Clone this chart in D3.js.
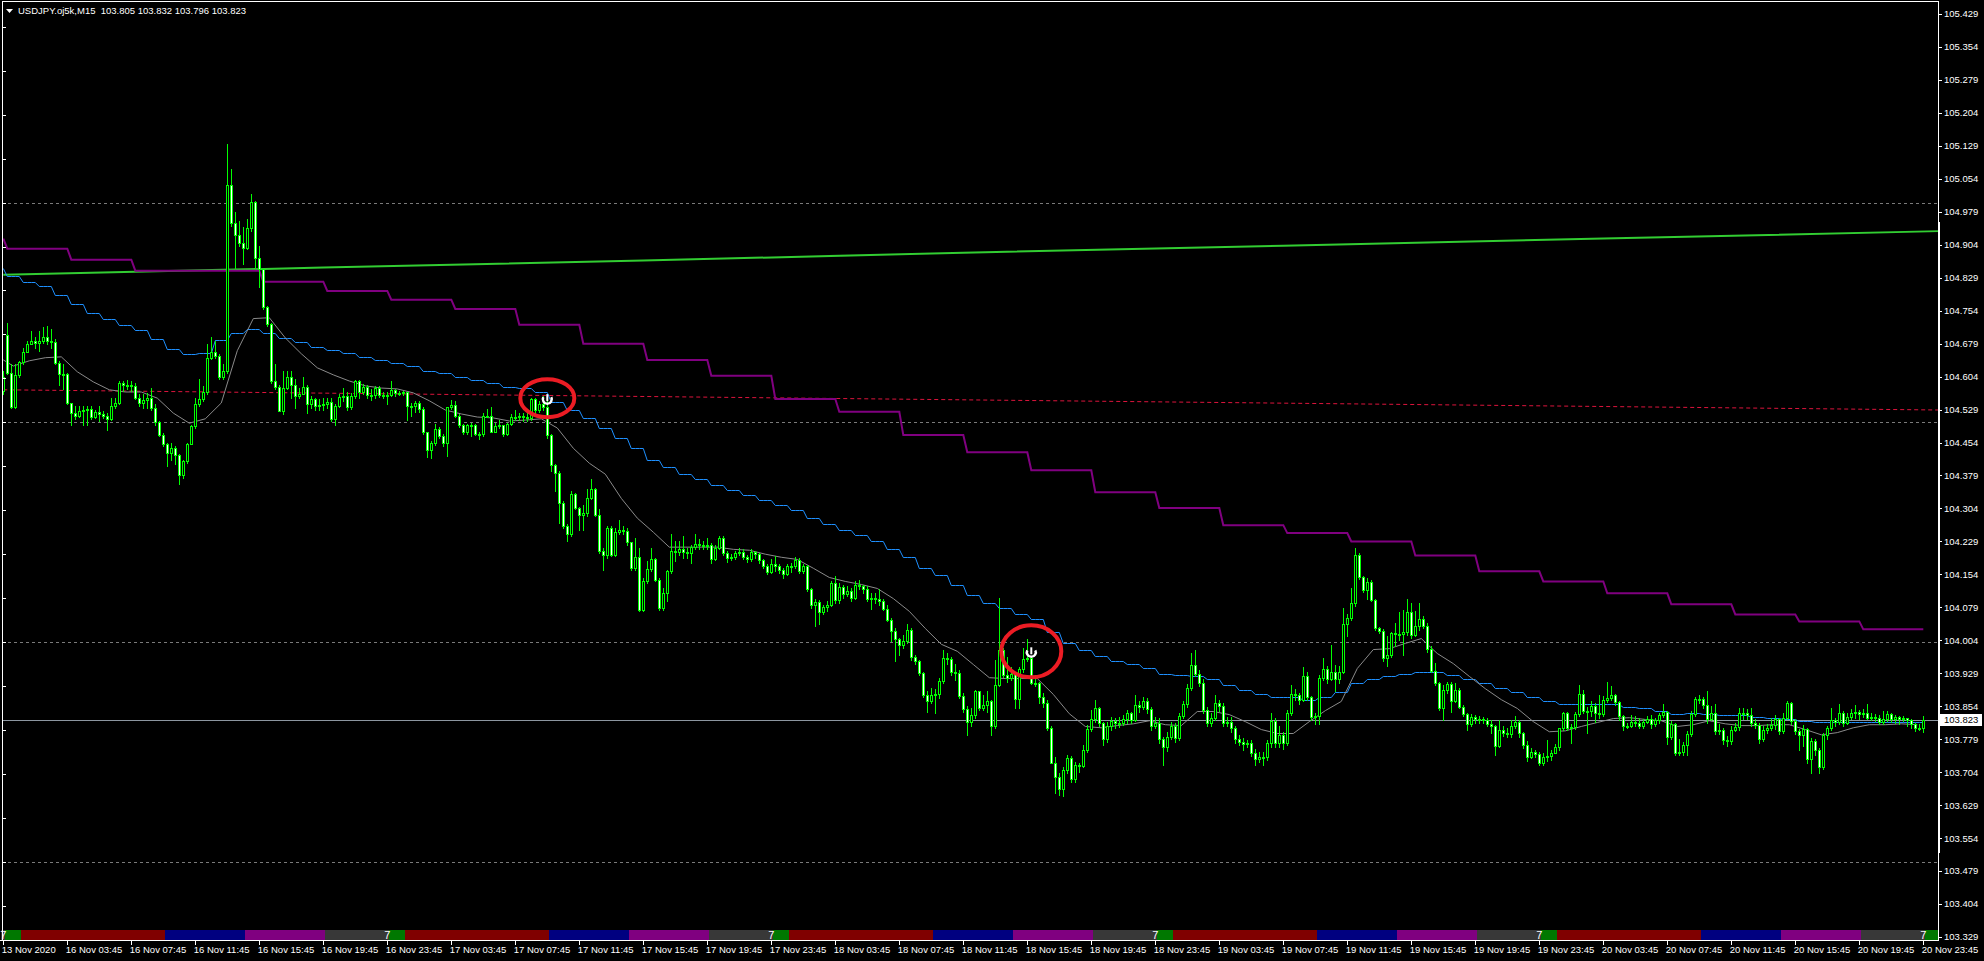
<!DOCTYPE html>
<html>
<head>
<meta charset="utf-8">
<script src="https://cdn.jsdelivr.net/npm/d3@7"></script>
<style>
html, body { margin: 0; padding: 0; background: #000; overflow: hidden; }
svg { display: block; }
text { font-family: Tahoma, "Liberation Sans", Arial, sans-serif; }
</style>
</head>
<body>
<div id="chart"></div>
<script>
// USDJPY M15, bars 0..480 (13 Nov 23:45 .. 20 Nov 23:45)
var title = "USDJPY.oj5k,M15\u00a0\u00a0103.805 103.832 103.796 103.823";
var firstOpen = 104.571;
var gapOpens = [{bar: 1, open: 104.699}];

var closes = [
104.602,104.613,104.535,104.607,104.637,104.659,104.678,104.684,104.681,104.685,104.694,104.684,104.683,104.634,104.611,104.611,
104.543,104.522,104.514,104.526,104.529,104.531,104.513,104.523,104.520,104.514,104.507,104.536,104.543,104.589,104.585,104.584,
104.583,104.556,104.543,104.551,104.556,104.533,104.501,104.472,104.450,104.431,104.442,104.425,104.379,104.412,104.450,104.491,
104.541,104.552,104.569,104.647,104.660,104.651,104.602,104.617,105.039,104.953,104.927,104.907,104.896,104.942,105.001,104.873,
104.849,104.763,104.723,104.594,104.580,104.526,104.577,104.604,104.584,104.561,104.565,104.581,104.541,104.552,104.536,104.539,
104.541,104.547,104.507,104.536,104.558,104.559,104.534,104.559,104.593,104.569,104.581,104.562,104.562,104.579,104.562,104.561,
104.563,104.573,104.566,104.566,104.568,104.536,104.538,104.545,104.530,104.477,104.436,104.452,104.484,104.469,104.452,104.534,
104.539,104.515,104.494,104.477,104.494,104.493,104.474,104.473,104.515,104.514,104.479,104.492,104.493,104.474,104.496,104.512,
104.511,104.514,104.512,104.509,104.553,104.527,104.541,104.534,104.471,104.403,104.385,104.317,104.264,104.245,104.336,104.306,
104.290,104.293,104.328,104.349,104.290,104.207,104.197,104.260,104.199,104.250,104.254,104.252,104.227,104.169,104.193,104.074,
104.140,104.167,104.188,104.142,104.078,104.112,104.161,104.207,104.205,104.211,104.205,104.203,104.216,104.224,104.221,104.220,
104.221,104.189,104.215,104.236,104.203,104.192,104.193,104.203,104.205,104.193,104.188,104.205,104.201,104.186,104.173,104.160,
104.177,104.173,104.163,104.155,104.174,104.173,104.186,104.161,104.173,104.120,104.084,104.091,104.069,104.079,104.084,104.135,
104.095,104.125,104.110,104.116,104.101,104.131,104.127,104.121,104.099,104.101,104.097,104.093,104.076,104.051,104.026,104.006,
103.994,104.003,104.028,103.965,103.956,103.930,103.880,103.867,103.880,103.882,103.912,103.964,103.962,103.932,103.930,103.878,
103.848,103.819,103.835,103.888,103.851,103.856,103.865,103.808,103.903,103.982,103.926,103.918,103.927,103.870,103.938,103.961,
103.963,103.908,103.906,103.876,103.862,103.804,103.726,103.694,103.665,103.709,103.737,103.688,103.720,103.719,103.754,103.802,
103.824,103.851,103.815,103.779,103.808,103.821,103.815,103.817,103.824,103.838,103.823,103.857,103.853,103.867,103.847,103.808,
103.817,103.779,103.762,103.785,103.809,103.781,103.832,103.859,103.895,103.948,103.928,103.908,103.846,103.815,103.827,103.862,
103.855,103.815,103.819,103.804,103.779,103.773,103.767,103.770,103.748,103.734,103.738,103.739,103.770,103.821,103.770,103.789,
103.770,103.838,103.881,103.880,103.868,103.922,103.876,103.830,103.831,103.918,103.939,103.916,103.933,103.916,103.932,104.040,
104.055,104.089,104.199,104.148,104.118,104.137,104.095,104.032,104.026,103.964,103.971,104.021,104.018,104.018,104.024,104.068,
104.017,104.037,104.053,104.037,103.984,103.935,103.907,103.850,103.891,103.904,103.865,103.891,103.852,103.836,103.813,103.829,
103.824,103.824,103.823,103.814,103.808,103.764,103.800,103.793,103.790,103.809,103.819,103.793,103.766,103.739,103.751,103.745,
103.724,103.738,103.741,103.747,103.762,103.804,103.838,103.804,103.806,103.837,103.882,103.844,103.844,103.855,103.838,103.836,
103.869,103.872,103.880,103.863,103.831,103.808,103.810,103.819,103.817,103.808,103.818,103.826,103.813,103.822,103.833,103.842,
103.785,103.813,103.748,103.750,103.765,103.790,103.836,103.870,103.871,103.857,103.824,103.838,103.798,103.800,103.777,103.775,
103.801,103.807,103.839,103.838,103.833,103.817,103.811,103.780,103.801,103.805,103.811,103.824,103.798,103.828,103.862,103.820,
103.798,103.788,103.803,103.734,103.776,103.754,103.716,103.788,103.805,103.822,103.818,103.839,103.817,103.830,103.839,103.841,
103.836,103.839,103.828,103.830,103.828,103.818,103.824,103.836,103.824,103.830,103.826,103.827,103.822,103.813,103.804,103.805,
103.823
];

var highs = [
104.617,104.727,104.632,104.632,104.640,104.670,104.685,104.708,104.693,104.708,104.716,104.719,104.712,104.689,104.640,104.632,
104.613,104.545,104.537,104.537,104.537,104.537,104.537,104.529,104.537,104.526,104.522,104.556,104.556,104.594,104.594,104.596,
104.594,104.590,104.564,104.564,104.567,104.577,104.541,104.503,104.476,104.453,104.453,104.446,104.428,104.415,104.453,104.495,
104.556,104.598,104.583,104.678,104.693,104.684,104.655,104.632,105.134,105.077,104.978,104.959,104.944,104.963,105.020,105.003,
104.902,104.849,104.765,104.727,104.632,104.586,104.617,104.617,104.617,104.598,104.579,104.602,104.585,104.560,104.556,104.552,
104.556,104.556,104.556,104.541,104.564,104.578,104.568,104.566,104.596,104.596,104.587,104.585,104.575,104.583,104.583,104.568,
104.570,104.593,104.575,104.572,104.572,104.570,104.545,104.549,104.549,104.534,104.479,104.458,104.496,104.490,104.474,104.535,
104.550,104.549,104.518,104.497,104.497,104.499,104.496,104.479,104.522,104.531,104.534,104.499,104.505,104.494,104.499,104.518,
104.528,104.522,104.522,104.522,104.556,104.555,104.549,104.560,104.556,104.473,104.406,104.389,104.321,104.268,104.344,104.340,
104.307,104.313,104.349,104.372,104.351,104.302,104.214,104.264,104.264,104.260,104.277,104.264,104.260,104.226,104.237,104.214,
104.146,104.184,104.214,104.192,104.146,104.123,104.165,104.245,104.230,104.230,104.241,104.215,104.222,104.245,104.234,104.230,
104.236,104.226,104.222,104.241,104.241,104.207,104.201,104.208,104.215,104.211,104.199,104.211,104.207,104.203,104.188,104.177,
104.188,104.196,104.177,104.169,104.178,104.180,104.194,104.192,104.178,104.175,104.123,104.097,104.095,104.084,104.093,104.139,
104.150,104.135,104.131,104.127,104.123,104.139,104.142,104.130,104.127,104.112,104.112,104.120,104.097,104.085,104.055,104.032,
104.009,104.017,104.040,104.032,103.970,103.960,103.933,103.888,103.895,103.894,103.918,103.981,103.975,103.965,103.949,103.937,
103.884,103.854,103.850,103.892,103.889,103.880,103.888,103.868,103.960,104.100,103.986,103.967,103.944,103.931,103.944,103.986,
104.007,103.967,103.926,103.910,103.884,103.868,103.808,103.739,103.701,103.716,103.743,103.741,103.728,103.726,103.766,103.811,
103.846,103.868,103.853,103.819,103.819,103.829,103.827,103.829,103.834,103.846,103.842,103.880,103.867,103.876,103.872,103.853,
103.829,103.827,103.785,103.796,103.819,103.817,103.838,103.867,103.905,103.976,103.981,103.937,103.916,103.853,103.838,103.880,
103.868,103.862,103.830,103.829,103.809,103.789,103.781,103.777,103.777,103.756,103.751,103.751,103.777,103.838,103.827,103.808,
103.796,103.846,103.903,103.893,103.884,103.944,103.933,103.878,103.838,103.926,103.964,103.945,103.994,103.948,103.945,104.078,
104.065,104.123,104.214,104.203,104.151,104.146,104.142,104.098,104.034,104.030,104.013,104.024,104.043,104.068,104.074,104.097,
104.089,104.070,104.089,104.059,104.043,103.990,103.952,103.910,103.903,103.910,103.910,103.907,103.895,103.857,103.838,103.837,
103.834,103.831,103.829,103.827,103.823,103.812,103.823,103.808,103.804,103.823,103.831,103.823,103.796,103.774,103.758,103.755,
103.751,103.747,103.777,103.755,103.768,103.787,103.842,103.842,103.814,103.840,103.903,103.891,103.852,103.865,103.861,103.880,
103.878,103.910,103.901,103.882,103.865,103.834,103.815,103.834,103.831,103.827,103.826,103.832,103.833,103.828,103.839,103.858,
103.843,103.820,103.817,103.780,103.773,103.798,103.843,103.876,103.879,103.874,103.888,103.855,103.858,103.813,103.805,103.786,
103.809,103.817,103.851,103.849,103.847,103.849,103.824,103.817,103.809,103.813,103.828,103.833,103.828,103.839,103.866,103.864,
103.826,103.803,103.811,103.805,103.782,103.779,103.760,103.794,103.809,103.849,103.828,103.858,103.843,103.839,103.847,103.856,
103.845,103.847,103.858,103.838,103.836,103.833,103.843,103.843,103.838,103.833,103.832,103.832,103.828,103.826,103.815,103.813,
103.832
];

var lows = [
104.564,104.611,104.533,104.533,104.604,104.632,104.662,104.678,104.670,104.662,104.681,104.678,104.670,104.632,104.586,104.575,
104.541,104.495,104.507,104.512,104.495,104.495,104.507,104.510,104.503,104.510,104.482,104.506,104.532,104.541,104.571,104.575,
104.571,104.552,104.537,104.533,104.533,104.529,104.495,104.469,104.446,104.400,104.415,104.405,104.360,104.374,104.408,104.450,
104.488,104.537,104.548,104.564,104.643,104.647,104.598,104.598,104.613,104.947,104.852,104.902,104.860,104.894,104.936,104.852,
104.807,104.757,104.719,104.590,104.575,104.526,104.520,104.575,104.556,104.533,104.556,104.564,104.522,104.533,104.529,104.529,
104.529,104.533,104.502,104.494,104.534,104.549,104.528,104.530,104.555,104.556,104.564,104.556,104.550,104.556,104.558,104.555,
104.541,104.560,104.560,104.562,104.562,104.505,104.515,104.524,104.524,104.474,104.420,104.418,104.448,104.465,104.446,104.423,
104.530,104.511,104.490,104.473,104.473,104.469,104.471,104.461,104.469,104.511,104.477,104.477,104.488,104.469,104.471,104.494,
104.505,104.505,104.503,104.503,104.505,104.522,104.524,104.528,104.465,104.389,104.344,104.271,104.260,104.231,104.241,104.302,
104.256,104.256,104.287,104.325,104.287,104.203,104.163,104.192,104.195,104.195,104.245,104.245,104.222,104.165,104.165,104.070,
104.070,104.135,104.161,104.138,104.074,104.074,104.093,104.158,104.184,104.199,104.192,104.192,104.180,104.211,104.211,104.211,
104.211,104.180,104.186,104.211,104.199,104.183,104.186,104.188,104.198,104.188,104.183,104.184,104.192,104.180,104.169,104.155,
104.158,104.161,104.158,104.146,104.152,104.160,104.169,104.158,104.158,104.116,104.078,104.036,104.040,104.063,104.070,104.082,
104.089,104.089,104.101,104.104,104.093,104.097,104.120,104.112,104.093,104.076,104.089,104.084,104.072,104.047,104.003,103.956,
103.971,103.987,103.998,103.960,103.949,103.926,103.876,103.842,103.861,103.838,103.873,103.907,103.949,103.926,103.914,103.873,
103.842,103.789,103.808,103.827,103.846,103.846,103.842,103.789,103.804,103.899,103.920,103.910,103.914,103.849,103.849,103.933,
103.956,103.905,103.899,103.861,103.853,103.800,103.724,103.656,103.652,103.650,103.701,103.682,103.682,103.705,103.715,103.751,
103.798,103.819,103.808,103.766,103.773,103.800,103.804,103.806,103.811,103.817,103.815,103.821,103.842,103.847,103.838,103.800,
103.804,103.770,103.720,103.753,103.779,103.773,103.777,103.827,103.853,103.891,103.922,103.900,103.838,103.808,103.809,103.823,
103.844,103.808,103.809,103.796,103.770,103.766,103.754,103.762,103.741,103.720,103.728,103.720,103.732,103.762,103.762,103.762,
103.756,103.766,103.834,103.868,103.859,103.865,103.868,103.823,103.814,103.814,103.913,103.907,103.913,103.888,103.907,103.929,
104.013,104.051,104.083,104.144,104.113,104.097,104.093,104.028,104.021,103.956,103.945,103.967,103.990,104.005,103.971,104.017,
104.009,104.013,104.028,104.032,103.977,103.931,103.903,103.846,103.823,103.884,103.842,103.863,103.850,103.832,103.800,103.808,
103.815,103.817,103.817,103.808,103.793,103.743,103.762,103.787,103.785,103.785,103.804,103.785,103.758,103.730,103.736,103.738,
103.720,103.720,103.730,103.732,103.747,103.755,103.800,103.800,103.770,103.802,103.831,103.838,103.793,103.831,103.819,103.827,
103.831,103.863,103.869,103.857,103.823,103.800,103.804,103.806,103.809,103.804,103.805,103.815,103.805,103.809,103.817,103.830,
103.767,103.779,103.744,103.742,103.744,103.742,103.786,103.832,103.862,103.851,103.817,103.823,103.790,103.792,103.767,103.763,
103.769,103.798,103.801,103.826,103.826,103.809,103.805,103.771,103.775,103.794,103.801,103.803,103.790,103.794,103.824,103.813,
103.792,103.754,103.763,103.725,103.703,103.744,103.703,103.712,103.779,103.801,103.809,103.813,103.809,103.813,103.826,103.828,
103.826,103.830,103.824,103.823,103.820,103.813,103.813,103.820,103.818,103.817,103.813,103.820,103.809,103.805,103.798,103.800,
103.796
];

// H1 average (blue), one value per hour block: block 0 = bar 0, block h = bars 4h-3..4h
var blueH1 = [
104.850,104.834,104.820,104.811,104.790,104.770,104.749,104.736,104.722,104.710,
104.690,104.667,104.656,104.658,104.688,104.704,104.713,104.704,104.692,104.683,
104.672,104.664,104.658,104.649,104.642,104.635,104.628,104.617,104.612,104.603,
104.596,104.590,104.580,104.578,104.569,104.546,104.528,104.510,104.487,104.464,
104.441,104.414,104.398,104.382,104.371,104.357,104.346,104.334,104.323,104.311,
104.300,104.282,104.268,104.254,104.243,104.229,104.211,104.193,104.168,104.152,
104.129,104.106,104.090,104.077,104.065,104.052,104.024,103.997,103.983,103.969,
103.958,103.949,103.940,103.928,103.926,103.922,103.915,103.903,103.892,103.883,
103.874,103.874,103.869,103.874,103.887,103.906,103.915,103.922,103.928,103.931,
103.931,103.924,103.915,103.906,103.896,103.887,103.874,103.865,103.860,103.860,
103.860,103.858,103.853,103.849,103.844,103.837,103.839,103.837,103.833,103.833,
103.830,103.828,103.826,103.821,103.819,103.819,103.819,103.819,103.819,103.819,103.819
];

// fast average (grey), one value per hour block
var greyH1 = [
104.642,104.628,104.640,104.647,104.649,104.615,104.592,104.574,104.569,104.569,
104.555,104.521,104.498,104.508,104.544,104.663,104.736,104.738,104.692,104.656,
104.624,104.608,104.594,104.583,104.578,104.576,104.567,104.549,104.528,104.519,
104.512,104.510,104.503,104.505,104.508,104.487,104.441,104.407,104.382,104.327,
104.282,104.250,104.216,104.216,104.216,104.216,104.211,104.209,104.200,104.193,
104.188,104.168,104.147,104.138,104.131,104.122,104.099,104.070,104.031,103.995,
103.979,103.949,103.919,103.917,103.917,103.917,103.881,103.837,103.808,103.805,
103.810,103.814,103.821,103.812,103.810,103.842,103.842,103.835,103.819,103.801,
103.792,103.792,103.819,103.844,103.865,103.940,103.983,103.985,103.997,104.008,
103.974,103.951,103.922,103.894,103.869,103.849,103.819,103.796,103.798,103.808,
103.817,103.826,103.828,103.824,103.821,103.808,103.812,103.821,103.814,103.810,
103.810,103.812,103.812,103.801,103.789,103.794,103.805,103.812,103.812,103.814,103.812
];

// H4 level (purple), one value per 4-hour block: block 0 = bar 0, block k = bars 16k-15..16k
var purpleH4 = [
104.918,104.895,104.870,104.845,104.845,104.820,104.799,104.779,104.758,104.722,
104.679,104.642,104.606,104.553,104.524,104.471,104.432,104.391,104.341,104.305,
104.266,104.248,104.229,104.197,104.161,104.138,104.111,104.086,104.063,104.047,104.029
];

// trend lines
var greenTrendBars = [0, 80, 160, 240, 320, 400, 484];
var greenTrendPrices = [104.836, 104.852, 104.868, 104.886, 104.902, 104.918, 104.935];
var redTrendBars = [0, 484];
var redTrendPrices = [104.574, 104.528];

var roundLevels = [105.0, 104.5, 104.0, 103.5];
var lastPrice = 103.823;

var markerBars = [136, 257];
var markerPrices = [104.555, 103.979];

var priceLabels = ["105.429","105.354","105.279","105.204","105.129","105.054","104.979","104.904",
  "104.829","104.754","104.679","104.604","104.529","104.454","104.379","104.304","104.229","104.154",
  "104.079","104.004","103.929","103.854","103.779","103.704","103.629","103.554","103.479","103.404","103.329"];
var leftTicks = [105.4,105.3,105.2,105.1,105.0,104.9,104.8,104.7,104.6,104.5,104.4,104.3,104.2,104.1,
  104.0,103.9,103.8,103.7,103.6,103.5,103.4];

var timeLabels = ["13 Nov 2020",
  "16 Nov 03:45","16 Nov 07:45","16 Nov 11:45","16 Nov 15:45","16 Nov 19:45","16 Nov 23:45",
  "17 Nov 03:45","17 Nov 07:45","17 Nov 11:45","17 Nov 15:45","17 Nov 19:45","17 Nov 23:45",
  "18 Nov 03:45","18 Nov 07:45","18 Nov 11:45","18 Nov 15:45","18 Nov 19:45","18 Nov 23:45",
  "19 Nov 03:45","19 Nov 07:45","19 Nov 11:45","19 Nov 15:45","19 Nov 19:45","19 Nov 23:45",
  "20 Nov 03:45","20 Nov 07:45","20 Nov 11:45","20 Nov 15:45","20 Nov 19:45","20 Nov 23:45"];
var timeLabelBars = d3.range(0, 481, 16);

// trading sessions per day, hours
var dayStartBars = [1, 97, 193, 289, 385, 481];
var sessionHours = [1, 9, 5, 5, 4];
var sessionColors = ["#007800", "#800000", "#000080", "#800080", "#383838"];

if (closes.length !== 481 || highs.length !== 481 || lows.length !== 481) {
  throw new Error("bad lengths " + closes.length + " " + highs.length + " " + lows.length);
}

var W = 1984, H = 961;
var plotLeft = 2, plotRight = 1938, axisY = 940;

var svg = d3.select("#chart").append("svg")
    .attr("width", W)
    .attr("height", H);

svg.append("rect").attr("width", W).attr("height", H).attr("fill", "#000");

var xScale = d3.scaleLinear().domain([0, 480]).range([3.3, 1923.3]);
var yScale = d3.scaleLinear().domain([103.329, 105.429]).range([937, 14]);

function crisp(v) { return Math.round(v) + 0.5; }

// round-number levels
svg.selectAll(".level")
    .data(roundLevels)
    .enter().append("line")
    .attr("x1", plotLeft).attr("x2", plotRight)
    .attr("y1", function(d) { return crisp(yScale(d)); })
    .attr("y2", function(d) { return crisp(yScale(d)); })
    .attr("stroke", "#7a7a7a")
    .attr("stroke-dasharray", "3,3");

// current price line
svg.append("line")
    .attr("x1", plotLeft).attr("x2", plotRight)
    .attr("y1", crisp(yScale(lastPrice))).attr("y2", crisp(yScale(lastPrice)))
    .attr("stroke", "#8c96a0");

// red trend line
var trendLine = d3.line()
    .x(function(d) { return xScale(d[0]); })
    .y(function(d) { return yScale(d[1]); });

svg.append("path")
    .attr("d", trendLine(d3.zip(redTrendBars, redTrendPrices)))
    .attr("fill", "none")
    .attr("stroke", "#dc143c")
    .attr("stroke-dasharray", "4,3");

// green trend line
svg.append("path")
    .attr("d", trendLine(d3.zip(greenTrendBars, greenTrendPrices)))
    .attr("fill", "none")
    .attr("stroke", "#32cd32")
    .attr("stroke-width", 2);

var allBars = d3.range(closes.length);

// purple H4 steps
var purpleLine = d3.line()
    .x(function(i) { return xScale(i); })
    .y(function(i) { return yScale(purpleH4[i === 0 ? 0 : Math.ceil(i / 16)]); });

svg.append("path")
    .attr("d", purpleLine(allBars))
    .attr("fill", "none")
    .attr("stroke", "#800080")
    .attr("stroke-width", 2);

// blue H1 steps
var blueLine = d3.line()
    .x(function(i) { return xScale(i); })
    .y(function(i) { return Math.round(yScale(blueH1[i === 0 ? 0 : Math.ceil(i / 4)])) + 0.5; });

svg.append("path")
    .attr("d", blueLine(allBars))
    .attr("fill", "none")
    .attr("stroke", "#1e90ff")
    .attr("stroke-width", 1);

// grey average through hour block centres
var greyLine = d3.line()
    .x(function(d, h) { return xScale(h === 0 ? 0 : 4 * h - 1.5); })
    .y(function(d) { return yScale(d); });

svg.append("path")
    .attr("d", greyLine(greyH1))
    .attr("fill", "none")
    .attr("stroke", "#8a8a8a")
    .attr("stroke-width", 1);

// candles
var candles = closes.map(function(c, i) {
  var o = i === 0 ? firstOpen : closes[i - 1];
  gapOpens.forEach(function(g) { if (g.bar === i) o = g.open; });
  return {i: i, o: o, c: c,
          h: Math.max(highs[i], o, c),
          l: Math.min(lows[i], o, c)};
});

var cg = svg.append("g");

cg.selectAll(".wick")
    .data(candles)
    .enter().append("line")
    .attr("x1", function(d) { return Math.floor(xScale(d.i)) + 0.5; })
    .attr("x2", function(d) { return Math.floor(xScale(d.i)) + 0.5; })
    .attr("y1", function(d) { return Math.round(yScale(d.h)); })
    .attr("y2", function(d) { return Math.round(yScale(d.l)) + 1; })
    .attr("stroke", "#00ff00");

cg.selectAll(".body")
    .data(candles)
    .enter().append("rect")
    .attr("x", function(d) { return Math.floor(xScale(d.i)) - 0.5; })
    .attr("width", 2)
    .attr("y", function(d) { return Math.round(yScale(Math.max(d.o, d.c))) + 0.5; })
    .attr("height", function(d) {
      return Math.max(1, Math.round(yScale(Math.min(d.o, d.c))) - Math.round(yScale(Math.max(d.o, d.c))));
    })
    .attr("fill", function(d) { return d.c < d.o ? "#ffffff" : "#000000"; })
    .attr("stroke", "#00ff00");

// marked fractals
markerBars.forEach(function(b, k) {
  var cx = xScale(b), cy = yScale(markerPrices[k]);
  var rx = k === 0 ? 27 : 30, ry = k === 0 ? 19 : 26;
  svg.append("ellipse")
      .attr("cx", cx).attr("cy", cy)
      .attr("rx", rx).attr("ry", ry)
      .attr("fill", "none")
      .attr("stroke", "#ec1c24")
      .attr("stroke-width", 4);
  var g = svg.append("g").attr("transform", "translate(" + cx + "," + (cy + 3) + ")");
  g.append("path")
      .attr("d", "M-4,-4 A4.5,4.5 0 1 0 4,-4")
      .attr("fill", "none")
      .attr("stroke", "#ffffff")
      .attr("stroke-width", 2.5);
  g.append("line")
      .attr("x1", 0).attr("x2", 0).attr("y1", -7).attr("y2", 0)
      .attr("stroke", "#ffffff")
      .attr("stroke-width", 2);
});

// session strip
var strip = [];
strip.push({x0: xScale(0) - 2, x1: xScale(dayStartBars[0]) - 2, color: sessionColors[4]});
dayStartBars.forEach(function(start) {
  var b = start;
  sessionHours.forEach(function(hrs, s) {
    var end = b + hrs * 4;
    var x0 = xScale(b) - 2, x1 = Math.min(xScale(end) - 2, plotRight);
    if (x0 < plotRight) strip.push({x0: x0, x1: x1, color: sessionColors[s]});
    b = end;
  });
});

svg.selectAll(".session")
    .data(strip)
    .enter().append("rect")
    .attr("x", function(d) { return Math.round(d.x0); })
    .attr("width", function(d) { return Math.round(d.x1) - Math.round(d.x0); })
    .attr("y", 930)
    .attr("height", 10)
    .attr("fill", function(d) { return d.color; });

svg.selectAll(".daymark")
    .data(dayStartBars)
    .enter().append("text")
    .attr("x", function(b) { return xScale(b) - 1; })
    .attr("y", 939)
    .attr("text-anchor", "end")
    .attr("fill", "#ffffff")
    .style("font-size", "11px")
    .text("7");

// frame
svg.append("line").attr("x1", 2.5).attr("x2", 2.5).attr("y1", 1).attr("y2", axisY)
    .attr("stroke", "#ffffff");
svg.append("line").attr("x1", 2).attr("x2", plotRight).attr("y1", 1.5).attr("y2", 1.5)
    .attr("stroke", "#ffffff");
svg.append("line").attr("x1", plotRight + 0.5).attr("x2", plotRight + 0.5).attr("y1", 1).attr("y2", 941)
    .attr("stroke", "#ffffff");
svg.append("rect").attr("x", plotRight).attr("y", 222).attr("width", 2).attr("height", 631)
    .attr("fill", "#ffffff");
svg.append("line").attr("x1", 0).attr("x2", plotRight).attr("y1", axisY + 0.5).attr("y2", axisY + 0.5)
    .attr("stroke", "#ffffff");

// left ticks
svg.selectAll(".lt")
    .data(leftTicks)
    .enter().append("line")
    .attr("x1", 3).attr("x2", 6)
    .attr("y1", function(d) { return crisp(yScale(d)); })
    .attr("y2", function(d) { return crisp(yScale(d)); })
    .attr("stroke", "#ffffff");

// right price axis
var priceAxis = svg.append("g");
priceAxis.selectAll("line")
    .data(priceLabels)
    .enter().append("line")
    .attr("x1", plotRight).attr("x2", plotRight + 4)
    .attr("y1", function(d) { return crisp(yScale(+d)); })
    .attr("y2", function(d) { return crisp(yScale(+d)); })
    .attr("stroke", "#ffffff");
priceAxis.selectAll("text")
    .data(priceLabels)
    .enter().append("text")
    .attr("x", 1944)
    .attr("y", function(d) { return yScale(+d); })
    .attr("dy", "0.36em")
    .attr("fill", "#ffffff")
    .style("font-size", "9.5px")
    .text(function(d) { return d; });

// last price label
var ly = Math.round(yScale(lastPrice));
svg.append("rect").attr("x", plotRight + 1).attr("y", ly - 6).attr("width", 43).attr("height", 12)
    .attr("fill", "#ffffff");
svg.append("text")
    .attr("x", 1944).attr("y", ly).attr("dy", "0.36em")
    .attr("fill", "#000000")
    .style("font-size", "9.5px")
    .text(d3.format(".3f")(lastPrice));

// time axis
var timeAxis = svg.append("g");
timeAxis.selectAll("line")
    .data(timeLabelBars)
    .enter().append("line")
    .attr("x1", function(b) { return Math.floor(xScale(b)) + 0.5; })
    .attr("x2", function(b) { return Math.floor(xScale(b)) + 0.5; })
    .attr("y1", axisY).attr("y2", axisY + 5)
    .attr("stroke", "#ffffff");
timeAxis.selectAll("text")
    .data(timeLabels)
    .enter().append("text")
    .attr("x", function(d, k) { return xScale(timeLabelBars[k]) - 1.5; })
    .attr("y", 953)
    .attr("fill", "#ffffff")
    .style("font-size", "9.5px")
    .text(function(d) { return d; });

// title
svg.append("path").attr("d", "M6,9 L13,9 L9.5,13 Z").attr("fill", "#ffffff");
svg.append("text")
    .attr("x", 18).attr("y", 14)
    .attr("fill", "#ffffff")
    .style("font-size", "9.5px")
    .text(title);
</script>
</body>
</html>
